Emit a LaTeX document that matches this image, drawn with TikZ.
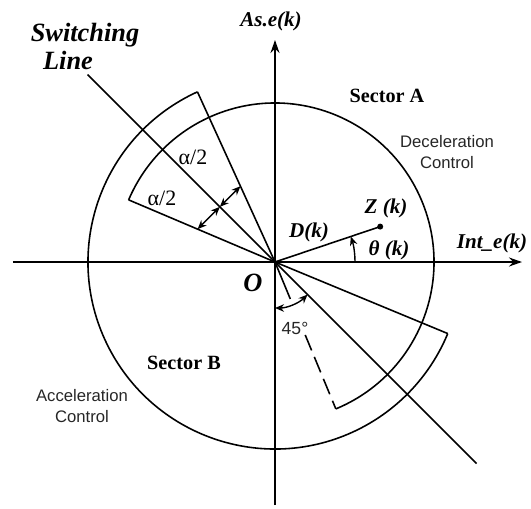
\documentclass[tikz,border=0pt]{standalone}
\usepackage{fontspec}
\setmainfont{Liberation Serif}
\newfontfamily\arialfont{Liberation Sans}
\usetikzlibrary{arrows.meta}

\begin{document}
\begin{tikzpicture}[
    x=0.02cm, y=0.02cm,
    axis/.style={line width=1.1pt, -{Stealth[length=2.6mm, width=1.8mm]}},
    edge/.style={line width=0.9pt},
    dim/.style={line width=0.8pt, {Stealth[length=1.8mm, width=1.5mm]}-{Stealth[length=1.8mm, width=1.5mm]}},
    axlabel/.style={font=\fontsize{12}{14}\selectfont\bfseries\itshape},
    sector/.style={font=\fontsize{11.5}{14}\selectfont\bfseries},
    ctrl/.style={font=\arialfont\fontsize{9.5}{11.5}\selectfont, align=center, text=black!85},
    half/.style={font=\fontsize{12.5}{14}\selectfont}
]
\useasboundingbox (-275,-246) rectangle (256,262);

% Axes
\coordinate (o)  at (0,0);
\coordinate (xl) at (-262,0);
\coordinate (xr) at (247,0);
\coordinate (yb) at (0,-243);
\coordinate (yt) at (0,222);
\draw[axis] (xl) -- (xr);
\draw[axis] (yb) -- (yt);

% Sector A (inner arc) and Sector B (outer arc)
\coordinate (aend) at (-67.5:159);
\coordinate (bbeg) at (114.5:187);
\draw[edge] (aend) arc[start angle=-67.5, end angle=157, radius=159] coordinate (abeg);
\draw[edge] (bbeg) arc[start angle=114.5, end angle=337.5, radius=187] coordinate (bend);

% Boundary layer edges
\draw[edge] (o) -- (bbeg);
\draw[edge] (o) -- (abeg);
\draw[edge] (o) -- (bend);
\coordinate (tick) at (-67.5:40);
\coordinate (dsh)  at (-67.5:79);
\draw[edge] (o) -- (tick);
\draw[edge, dash pattern=on 9.5pt off 4pt] (dsh) -- (aend);

% Switching line
\coordinate (sw1) at (135:265);
\coordinate (sw2) at (-45:285);
\draw[edge] (sw1) -- (sw2);

% Operating point
\coordinate (z) at (18.6:111);
\draw[edge] (o) -- (z);
\fill (z) circle[radius=3];
\draw[line width=0.8pt, -{Stealth[length=1.8mm, width=1.5mm]}] (80,0) arc[start angle=0, end angle=18.6, radius=80];

% Angle marks
\coordinate (h1) at (157:84.1);
\coordinate (h0) at (135:78);
\coordinate (h2) at (114.5:83.3);
\draw[dim] (h1) -- (h0);
\draw[dim] (h0) -- (h2);
\draw[dim] (-90:46) arc[start angle=-90, end angle=-45, radius=46];

% Labels
\node[axlabel] (ylab) at (-4,241) {As.e(k)};
\node[axlabel] (xlab) at (217,19) {Int\_e(k)};
\node[font=\fontsize{15}{17}\selectfont\bfseries\itshape] (swlab) at (-190,227) {Switching};
\node[font=\fontsize{15}{17}\selectfont\bfseries\itshape] (lnlab) at (-207,202) {Line};
\node[sector] (seca) at (112,166) {Sector A};
\node[sector] (secb) at (-91,-101) {Sector B};
\node[ctrl] (decel) at (172,110) {Deceleration\\Control};
\node[ctrl] (accel) at (-193,-144) {Acceleration\\Control};
\node[font=\fontsize{15}{17}\selectfont\bfseries\itshape] (olab) at (-22,-21) {O};
\node[axlabel] (zlab) at (111,54) {Z (k)};
\node[axlabel] (dlab) at (34,30) {D(k)};
\node[axlabel] (thlab) at (114,12) {θ (k)};
\node[half] (ha1) at (-82,105) {α/2};
\node[half] (ha2) at (-113,64) {α/2};
\node[ctrl, font=\arialfont\fontsize{10}{12}\selectfont] (deg) at (20,-66) {45°};
\end{tikzpicture}
\end{document}
